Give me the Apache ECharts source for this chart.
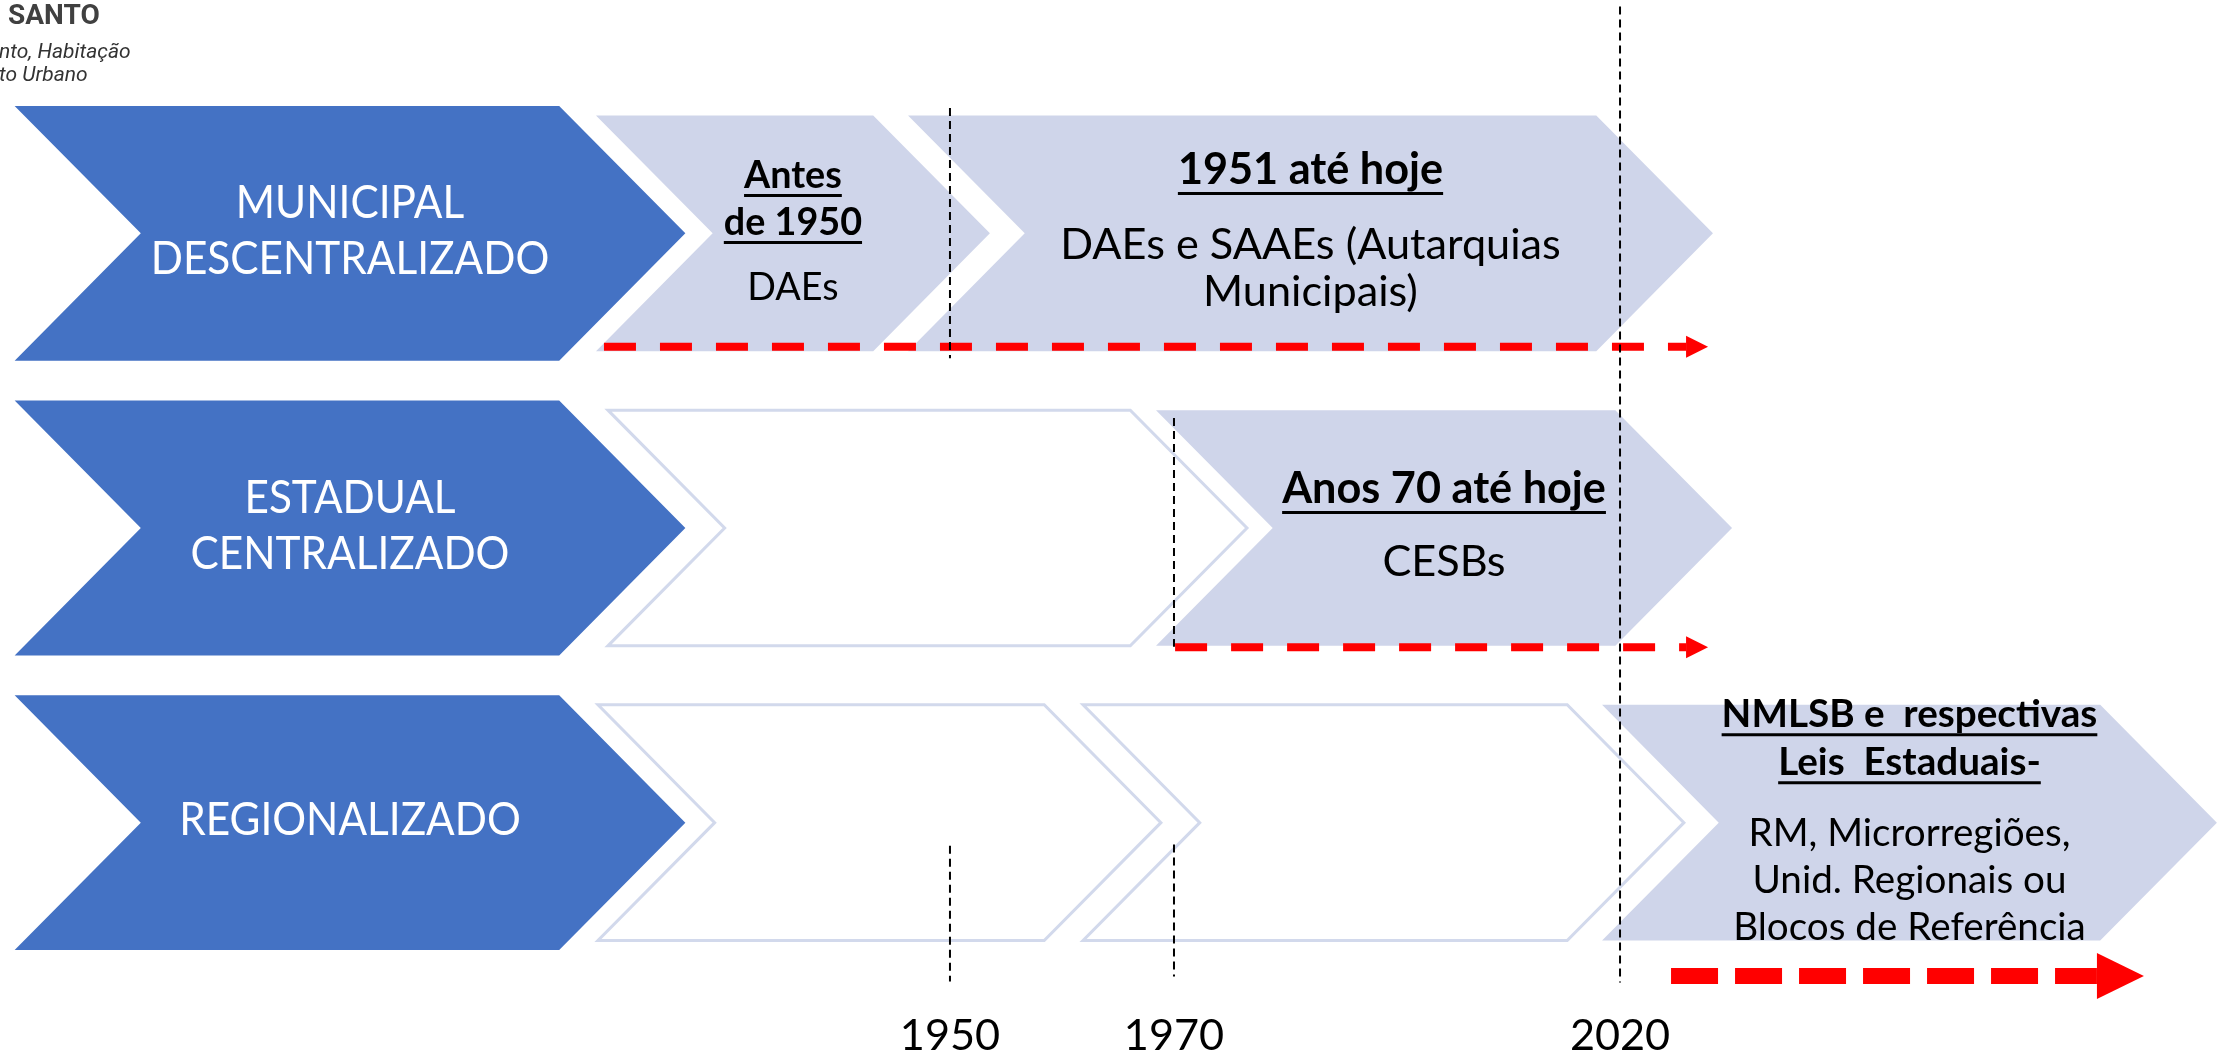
<!DOCTYPE html>
<html>
<head>
<meta charset="utf-8">
<script src="https://cdn.jsdelivr.net/npm/echarts@6/dist/echarts.min.js"></script>
<style>
    html, body { margin: 0; padding: 0; background: #fff; }
    #chart { width: 2218px; height: 1058px; }
</style>
</head>
<body>
<div id="chart"></div>
<script>
    // rows of the diagram (drawn inside the blue header chevrons)
    const rowNames = ['MUNICIPAL\nDESCENTRALIZADO', 'ESTADUAL\nCENTRALIZADO', 'REGIONALIZADO'];
    const headerStart = [0.66, 0.66, 0.66];
    const headerEnd = [30.9, 30.9, 30.9];

    // phases on the timeline (x axis runs 0..100 along the page)
    const phaseRow = [0, 0, 1, 1, 2, 2, 2];
    const phaseStart = [26.87, 40.94, 27.41, 52.12, 26.96, 48.83, 72.23];
    const phaseEnd = [44.63, 77.23, 56.22, 78.09, 52.34, 75.92, 99.95];
    const phaseFilled = [true, true, false, true, false, false, true];
    const phaseTitle = [['Antes', 'de 1950'], ['1951 até hoje'], [], ['Anos 70 até hoje'], [], [], ['NMLSB e  respectivas', 'Leis  Estaduais-']];
    const phaseBody = [['DAEs'], ['DAEs e SAAEs (Autarquias', 'Municipais)'], [], ['CESBs'], [], [], ['RM, Microrregiões,', 'Unid. Regionais ou', 'Blocos de Referência']];

    // year markers
    const markerYears = ['1950', '1970', '2020'];
    const markerPos = [42.83, 52.93, 73.04];
    // dashed marker segments (marker index, from / to in row units)
    const segMarker = [0, 0, 1, 1, 2];
    const segFrom = [-0.425, 2.078, 0.627, 2.074, -0.77];
    const segTo = [0.424, 2.539, 1.403, 2.522, 2.542];

    // red arrows "até hoje"
    const arrowRow = [0, 1, 2];
    const arrowStart = [27.23, 52.98, 75.34];
    const arrowEnd = [77.01, 77.01, 96.66];

    // ---- styles ----
    const FONT = 'Lato';
    const SIZE_K = 0.92;  // Lato size close to the Calibri look
    const BLUE = '#4472C4', LAVENDER = '#CFD5EA', OUTLINE = '#D2D9EC', RED = '#FF0000';
    const DEPTH = 0.495;
    const headerH = 0.865, phaseH = 0.80;
    const headerText = {fs: 50, titleLH: 0, gap: 0, bodyLH: 56, sx: 0.92};
    const phaseText = [
        {fs: 41, titleLH: 47, gap: 65, bodyLH: 47, sx: 1},
        {fs: 47, titleLH: 47, gap: 75, bodyLH: 47, sx: 1},
        null,
        {fs: 47, titleLH: 47, gap: 73, bodyLH: 47, sx: 1},
        null, null,
        {fs: 42, titleLH: 48, gap: 71, bodyLH: 47, sx: 1}
    ];
    const arrowStyle = [
        {yOff: 0.385, width: 8, dash: [32, 24], headL: 22, headH: 22},
        {yOff: 0.405, width: 8, dash: [32, 24], headL: 22, headH: 22},
        {yOff: 0.52, width: 16, dash: [47, 17], headL: 47, headH: 46}
    ];

    const measureCtx = document.createElement('canvas').getContext('2d');
    function textWidth(str, size, weight) {
        measureCtx.font = weight + ' ' + size + 'px ' + FONT;
        return measureCtx.measureText(str).width;
    }

    function chevron(x0, x1, yc, h) {
        const d = h * DEPTH, t = yc - h / 2, b = yc + h / 2;
        return [[x0, t], [x1 - d, t], [x1, yc], [x1 - d, b], [x0, b], [x0 + d, yc]];
    }

    function textBlock(titles, bodies, st, cx, yc, color) {
        const lines = [];
        let b = 0;
        titles.forEach(function (t) { lines.push({t: t, b: b, bold: true}); b += st.titleLH; });
        if (titles.length) b += st.gap - st.titleLH;
        bodies.forEach(function (t) { lines.push({t: t, b: b, bold: false}); b += st.bodyLH; });
        const capTop = -0.644 * st.fs, last = lines[lines.length - 1].b;
        const shift = yc - 2 - (capTop + last) / 2;
        const size = st.fs * SIZE_K;
        const els = [];
        lines.forEach(function (ln) {
            const base = ln.b + shift;
            els.push({
                type: 'text', x: cx, y: base - 0.322 * st.fs, scaleX: st.sx,
                style: {
                    text: ln.t, fill: color, fontSize: size, fontFamily: FONT,
                    fontWeight: ln.bold ? 'bold' : 'normal', align: 'center', verticalAlign: 'middle'
                }
            });
            if (ln.bold) {
                const w = textWidth(ln.t, size, 'bold') * st.sx;
                els.push({
                    type: 'line',
                    shape: {x1: cx - w / 2, y1: base + 0.17 * st.fs, x2: cx + w / 2, y2: base + 0.17 * st.fs},
                    style: {stroke: color, lineWidth: 3}
                });
            }
        });
        return els;
    }

    const chart = echarts.init(document.getElementById('chart'));

    const option = {
        animation: false,
        backgroundColor: '#fff',
        graphic: [
            {type: 'text', x: 8, y: 17, style: {text: 'SANTO', fontFamily: 'Roboto', fontWeight: 'bold', fontSize: 28, fill: '#404040', verticalAlign: 'middle'}},
            {type: 'text', x: -1, y: 53, style: {text: 'nto, Habitação', fontFamily: 'Roboto', fontStyle: 'italic', fontSize: 21, fill: '#333', verticalAlign: 'middle'}},
            {type: 'text', x: -1, y: 76, style: {text: 'to Urbano', fontFamily: 'Roboto', fontStyle: 'italic', fontSize: 21, fill: '#333', verticalAlign: 'middle'}}
        ],
        grid: {left: 0, right: 0, top: 86, height: 885},
        xAxis: {
            type: 'value', min: 0, max: 100,
            axisLine: {show: false}, axisTick: {show: false}, splitLine: {show: false},
            axisLabel: {
                customValues: markerPos,
                formatter: function (v) {
                    const i = markerPos.indexOf(v);
                    return i >= 0 ? markerYears[i] : '';
                },
                fontFamily: FONT, fontSize: 47 * SIZE_K, color: '#000', margin: 45
            }
        },
        yAxis: {type: 'value', min: -0.5, max: 2.5, inverse: true, show: false},
        series: [
            {
                name: 'header', type: 'custom', encode: {x: [0, 1], y: 2},
                data: rowNames.map(function (n, i) { return [headerStart[i], headerEnd[i], i]; }),
                renderItem: function (params, api) {
                    const p0 = api.coord([api.value(0), api.value(2)]);
                    const p1 = api.coord([api.value(1), api.value(2)]);
                    const h = api.size([0, 1])[1] * headerH;
                    const name = rowNames[params.dataIndex].split('\n');
                    return {
                        type: 'group',
                        children: [{
                            type: 'polygon', shape: {points: chevron(p0[0], p1[0], p0[1], h)},
                            style: {fill: BLUE}
                        }].concat(textBlock([], name, headerText, (p0[0] + p1[0]) / 2, p0[1], '#fff'))
                    };
                }
            },
            {
                name: 'phases', type: 'custom', encode: {x: [0, 1], y: 2},
                data: phaseRow.map(function (r, i) { return [phaseStart[i], phaseEnd[i], r]; }),
                renderItem: function (params, api) {
                    const i = params.dataIndex;
                    const p0 = api.coord([api.value(0), api.value(2)]);
                    const p1 = api.coord([api.value(1), api.value(2)]);
                    const h = api.size([0, 1])[1] * phaseH;
                    const filled = phaseFilled[i];
                    let children = [{
                        type: 'polygon', shape: {points: chevron(p0[0], p1[0], p0[1], h)},
                        style: filled ? {fill: LAVENDER} : {fill: '#fff', stroke: OUTLINE, lineWidth: 3}
                    }];
                    if (phaseText[i]) {
                        children = children.concat(textBlock(phaseTitle[i], phaseBody[i], phaseText[i], (p0[0] + p1[0]) / 2, p0[1], '#000'));
                    }
                    return {type: 'group', children: children};
                }
            },
            {
                name: 'arrows', type: 'custom', encode: {x: [0, 1], y: 2},
                data: arrowRow.map(function (r, i) { return [arrowStart[i], arrowEnd[i], r]; }),
                renderItem: function (params, api) {
                    const st = arrowStyle[params.dataIndex];
                    const band = api.size([0, 1])[1];
                    const p0 = api.coord([api.value(0), api.value(2)]);
                    const p1 = api.coord([api.value(1), api.value(2)]);
                    const y = p0[1] + st.yOff * band;
                    return {
                        type: 'group',
                        children: [
                            {
                                type: 'line', shape: {x1: p0[0], y1: y, x2: p1[0] - st.headL, y2: y},
                                style: {stroke: RED, lineWidth: st.width, lineDash: st.dash, lineCap: 'butt'}
                            },
                            {
                                type: 'polygon',
                                shape: {points: [[p1[0] - st.headL, y - st.headH / 2], [p1[0], y], [p1[0] - st.headL, y + st.headH / 2]]},
                                style: {fill: RED}
                            }
                        ]
                    };
                }
            },
            {
                name: 'markers', type: 'custom', encode: {x: 0, y: [1, 2]},
                data: segMarker.map(function (m, i) { return [markerPos[m], segFrom[i], segTo[i]]; }),
                renderItem: function (params, api) {
                    const a = api.coord([api.value(0), api.value(1)]);
                    const b = api.coord([api.value(0), api.value(2)]);
                    return {
                        type: 'line', shape: {x1: a[0], y1: a[1], x2: b[0], y2: b[1]},
                        style: {stroke: '#000', lineWidth: 2, lineDash: [8, 5]}
                    };
                }
            }
        ]
    };
    chart.setOption(option);
    window.addEventListener('resize', function () {
        chart.resize();
    });
</script>
</body>
</html>
